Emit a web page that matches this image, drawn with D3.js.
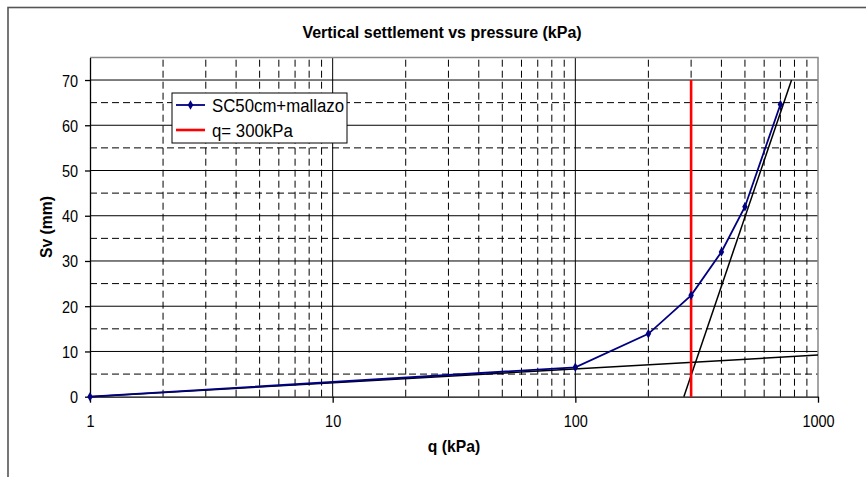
<html>
<head>
<script src="https://d3js.org/d3.v7.min.js"></script>
<style>
  body { margin: 0; background: #fff; }
  text { font-family: "Liberation Sans", Arial, sans-serif; fill: #000; }
</style>
</head>
<body>
<svg id="chart" width="866" height="477"></svg>
<script>
// measured series
const qVals = [1, 100, 200, 300, 400, 500, 700];
const svVals = [0, 6.5, 13.9, 22.4, 32, 42, 64.6];
// fitted straight lines (log q)
const fitLowQ = [1, 1000];
const fitLowSv = [0, 9.2];
const fitHighQ = [280, 778];
const fitHighSv = [0, 70];
// q limit
const limitQ = [300, 300];
const limitSv = [0, 70];

const xTicks = [1, 10, 100, 1000];
const xMinor = [2,3,4,5,6,7,8,9,20,30,40,50,60,70,80,90,200,300,400,500,600,700,800,900];
const xMajorGrid = [10, 100];
const yTicks = [0, 10, 20, 30, 40, 50, 60, 70];
const yMajorGrid = [10, 20, 30, 40, 50, 60, 70];
const yMinor = [5, 15, 25, 35, 45, 55, 65];

const svg = d3.select('#chart');
const x = d3.scaleLog().domain([1, 1000]).range([90, 818]);
const y = d3.scaleLinear().domain([0, 75]).range([396.7, 57.4]);

// outer chart frame
svg.append('rect').attr('x', 8).attr('y', 7.5).attr('width', 900).attr('height', 520)
  .attr('fill', 'none').attr('stroke', '#555').attr('stroke-width', 1.6);

svg.append('text').attr('x', 442).attr('y', 38).attr('text-anchor', 'middle')
  .style('font-size', '16px').style('font-weight', 'bold')
  .text('Vertical settlement vs pressure (kPa)');

// grid
const grid = svg.append('g');
grid.selectAll('.hmin').data(yMinor).enter().append('line')
  .attr('x1', x(1)).attr('x2', x(1000)).attr('y1', d => y(d)).attr('y2', d => y(d))
  .attr('stroke', '#000').attr('stroke-width', 1).attr('stroke-dasharray', '7,4');
grid.selectAll('.vmin').data(xMinor).enter().append('line')
  .attr('x1', d => x(d)).attr('x2', d => x(d)).attr('y1', y(0)).attr('y2', y(75))
  .attr('stroke', '#000').attr('stroke-width', 1).attr('stroke-dasharray', '7,4');
grid.selectAll('.hmaj').data(yMajorGrid).enter().append('line')
  .attr('x1', x(1)).attr('x2', x(1000)).attr('y1', d => y(d)).attr('y2', d => y(d))
  .attr('stroke', '#000').attr('stroke-width', 1);
grid.selectAll('.vmaj').data(xMajorGrid).enter().append('line')
  .attr('x1', d => x(d)).attr('x2', d => x(d)).attr('y1', y(0)).attr('y2', y(75))
  .attr('stroke', '#000').attr('stroke-width', 1);

// plot frame top / right
svg.append('path')
  .attr('d', 'M' + x(1) + ',' + y(75) + 'H' + x(1000) + 'V' + y(0))
  .attr('fill', 'none').attr('stroke', '#888').attr('stroke-width', 1.5);

// axes
const yAxis = svg.append('g').attr('transform', 'translate(' + x(1) + ',0)')
  .call(d3.axisLeft(y).tickValues(yTicks).tickSize(5).tickSizeOuter(0));
yAxis.selectAll('text').attr('x', -12).attr('dy', null).attr('y', null)
  .attr('transform', 'translate(0,6) scale(1,1.17)')
  .style('font-size', '14.5px').attr('fill', '#000');

const xAxis = svg.append('g').attr('transform', 'translate(0,' + y(0) + ')')
  .call(d3.axisBottom(x).tickValues(xTicks).tickFormat(d3.format('d')).tickSize(6).tickSizeOuter(0));
xAxis.selectAll('text').attr('dy', null).attr('y', null)
  .attr('transform', 'translate(0,30.5) scale(1,1.17)')
  .style('font-size', '14.5px').attr('fill', '#000');
svg.selectAll('.domain, .tick line').attr('stroke', '#000').attr('stroke-width', 1.3);

svg.append('text').attr('x', 454).attr('y', 451.5).attr('text-anchor', 'middle')
  .style('font-size', '15.7px').style('font-weight', 'bold').text('q (kPa)');
svg.append('text').attr('transform', 'translate(51.5,227) rotate(-90)')
  .attr('text-anchor', 'middle').style('font-size', '15.7px').style('font-weight', 'bold')
  .text('Sv (mm)');

// lines
const line = d3.line().x(d => x(d[0])).y(d => y(d[1]));
const pairs = (a, b) => a.map((v, i) => [v, b[i]]);

svg.append('path').datum(pairs(fitLowQ, fitLowSv)).attr('d', line)
  .attr('fill', 'none').attr('stroke', '#000').attr('stroke-width', 1.5);
svg.append('path').datum(pairs(fitHighQ, fitHighSv)).attr('d', line)
  .attr('fill', 'none').attr('stroke', '#000').attr('stroke-width', 1.5);
svg.append('path').datum(pairs(limitQ, limitSv)).attr('d', line)
  .attr('fill', 'none').attr('stroke', '#ff0000').attr('stroke-width', 2.6);

const series = pairs(qVals, svVals);
svg.append('path').datum(series).attr('d', line)
  .attr('fill', 'none').attr('stroke', '#000080').attr('stroke-width', 1.8);
const diamond = d3.symbol().type(d3.symbolDiamond).size(26);
svg.selectAll('.pt').data(series).enter().append('path')
  .attr('d', diamond)
  .attr('transform', d => 'translate(' + x(d[0]) + ',' + y(d[1]) + ')')
  .attr('fill', '#000080');

// legend
const lg = svg.append('g');
lg.append('rect').attr('x', 172).attr('y', 93).attr('width', 175).attr('height', 50)
  .attr('fill', '#fff').attr('stroke', '#000').attr('stroke-width', 1);
lg.append('line').attr('x1', 176).attr('x2', 205).attr('y1', 105).attr('y2', 105)
  .attr('stroke', '#000080').attr('stroke-width', 1.8);
lg.append('path').attr('d', diamond).attr('transform', 'translate(190.5,105)').attr('fill', '#000080');
lg.append('text').attr('transform', 'translate(212,111.5) scale(1,1.08)')
  .style('font-size', '16.8px').text('SC50cm+mallazo');
lg.append('line').attr('x1', 176).attr('x2', 205).attr('y1', 130).attr('y2', 130)
  .attr('stroke', '#ff0000').attr('stroke-width', 2.6);
lg.append('text').attr('transform', 'translate(212,136.5) scale(1,1.08)')
  .style('font-size', '16.8px').text('q= 300kPa');
</script>
</body>
</html>
